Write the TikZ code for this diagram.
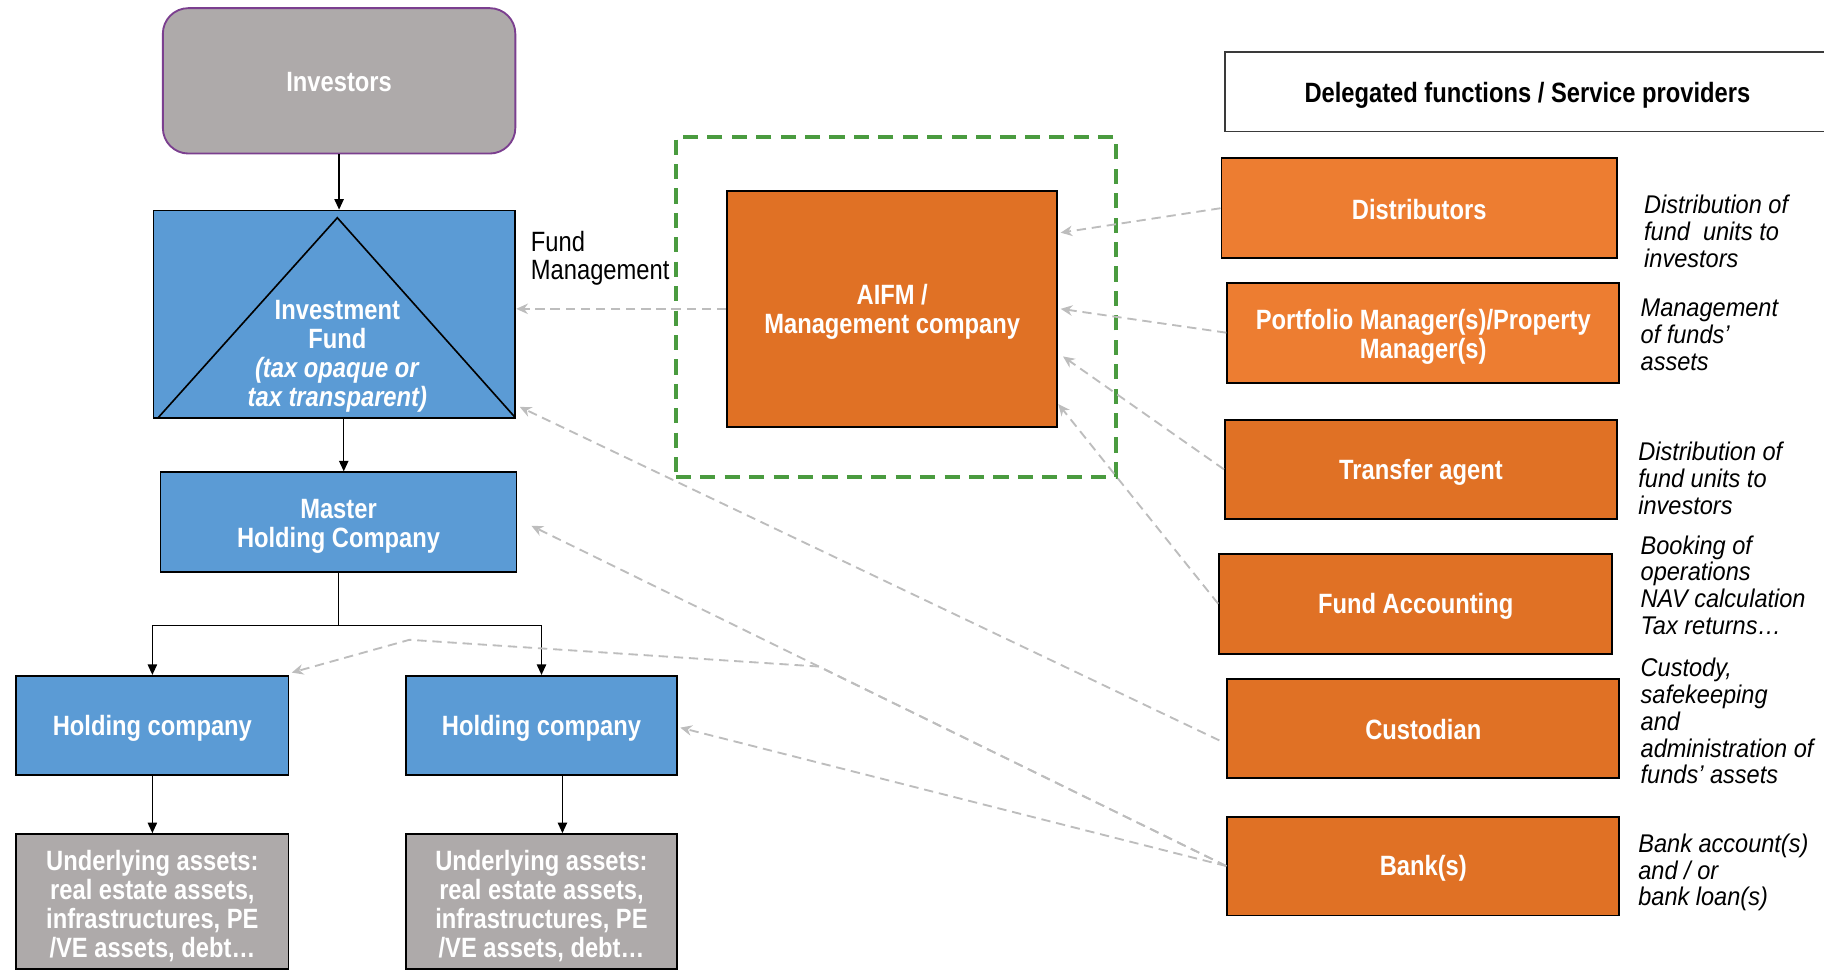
\documentclass[tikz,border=0pt]{standalone}
\usepackage{fontspec}
\setmainfont{Liberation Sans}[FakeStretch=0.85]
\newfontfamily\descfont{Liberation Sans}[FakeStretch=0.92]
\usetikzlibrary{arrows.meta,calc}

\definecolor{boxblue}{HTML}{5B9BD5}
\definecolor{boxgray}{HTML}{AEAAAA}
\definecolor{invborder}{HTML}{7B3F8F}
\definecolor{orangedk}{HTML}{E07125}
\definecolor{orangelt}{HTML}{ED7D31}
\definecolor{zonegreen}{HTML}{4A9B3F}
\definecolor{linkgray}{HTML}{BDBDBD}
\definecolor{hdrborder}{HTML}{3A3A3A}

% invisible strut that sets the height of a label's first line
\newcommand\toprow[1]{\rule{0pt}{#1}}

\begin{document}
\begin{tikzpicture}[x=0.5pt,y=-0.5pt,
  lift/.initial=11pt,
  box/.style={draw=black, line width=0.8pt, inner sep=0pt, text=white,
    font=\fontsize{12}{12.5}\selectfont\bfseries, align=center,
    execute at begin node={\toprow{\pgfkeysvalueof{/tikz/lift}}}},
  bluebox/.style={box, fill=boxblue},
  greybox/.style={box, fill=boxgray},
  darkorange/.style={box, fill=orangedk},
  lightorange/.style={box, fill=orangelt},
  desc/.style={anchor=west, inner sep=0pt, align=left,
    font=\descfont\fontsize{11}{11.5}\selectfont\itshape},
  own/.style={-{Triangle[length=4.5pt,width=4pt]}, line width=0.6pt, black},
  link/.style={-{Stealth[length=5pt,width=4.5pt]}, draw=linkgray,
    line width=0.8pt, dash pattern=on 4pt off 2.5pt},
]
\useasboundingbox (0,0) rectangle (1568,834);
\clip (0,0) rectangle (1568,834);

% management perimeter
\node[draw=zonegreen, line width=1.7pt, dash pattern=on 6.5pt off 4pt,
  minimum width=189pt, minimum height=146pt, inner sep=0pt] (zone) at (770,264) {};

% fund structure
\node[greybox, draw=invborder, rounded corners=11pt, lift=9.6pt,
  minimum width=151.5pt, minimum height=62.5pt] (inv) at (291.5,69.5) {Investors};
\node[bluebox, minimum width=155.5pt, minimum height=89pt] (IF) at (287.5,270) {};
\draw[line width=0.7pt] ($(IF.south west)+(5,-1)$) -- ($(IF.north)+(2.5,7)$)
  -- ($(IF.south east)+(-1,-1)$);
\node[text=white, align=center, inner sep=0pt,
  font=\fontsize{12}{12.5}\selectfont\bfseries] (iftext) at (290,306.5)
  {Investment\\Fund\\\textit{(tax opaque or}\\\textit{tax transparent)}};
\node[bluebox, minimum width=153pt, minimum height=43pt] (mh) at (291,449)
  {\toprow{11.8pt}Master\\Holding Company};
\node[bluebox, lift=11.5pt, minimum width=117pt, minimum height=42.5pt] (hc1) at (131,623.5)
  {Holding company};
\node[bluebox, lift=11.5pt, minimum width=116.5pt, minimum height=42.5pt] (hc2) at (465.5,623.5)
  {Holding company};
\node[greybox, minimum width=117pt, minimum height=58pt] (ua1) at (131,775)
  {\toprow{12.3pt}Underlying assets:\\real estate assets,\\infrastructures, PE\\/VE assets, debt…};
\node[greybox, minimum width=116.5pt, minimum height=58pt] (ua2) at (465.5,775)
  {\toprow{12.3pt}Underlying assets:\\real estate assets,\\infrastructures, PE\\/VE assets, debt…};

\node[anchor=west, inner sep=0pt, align=left, font=\fontsize{12}{12}\selectfont]
  (fmlabel) at (456,222) {Fund\\Management};

% manager
\node[darkorange, minimum width=142pt, minimum height=101.5pt] (aifm) at (767,265.5)
  {\toprow{11pt}AIFM /\\Management company};

% service providers
\node[draw=hdrborder, fill=white, line width=0.8pt, inner sep=0pt,
  minimum width=260pt, minimum height=34pt,
  execute at begin node={\toprow{11.5pt}},
  font=\fontsize{12}{12.5}\selectfont\bfseries] (hdr) at (1313,79)
  {Delegated functions / Service providers};
\node[lightorange, lift=9.6pt, minimum width=170pt, minimum height=43pt] (dist) at (1220,179)
  {Distributors};
\node[lightorange, minimum width=168.5pt, minimum height=43pt] (pm) at (1223.5,286)
  {\toprow{12.4pt}Portfolio Manager(s)/Property\\Manager(s)};
\node[darkorange, minimum width=168.5pt, minimum height=42.5pt] (ta) at (1221.5,403.5)
  {Transfer agent};
\node[darkorange, minimum width=169pt, minimum height=43pt] (fa) at (1217,519)
  {Fund Accounting};
\node[darkorange, lift=9pt, minimum width=168.5pt, minimum height=42.5pt] (cust) at (1223.5,626.5)
  {Custodian};
\node[darkorange, minimum width=168.5pt, minimum height=42.5pt] (bank) at (1223.5,744.5)
  {Bank(s)};

\node[desc] (d1) at (1413,199) {Distribution of\\fund~ units to\\investors};
\node[desc] (d2) at (1410,288) {Management\\of funds’\\assets};
\node[desc] (d3) at (1408,411) {Distribution of\\fund units to\\investors};
\node[desc] (d4) at (1410,503) {Booking of\\operations\\NAV calculation\\Tax returns…};
\node[desc] (d5) at (1410,620) {Custody,\\safekeeping\\and\\administration of\\funds’ assets};
\node[desc] (d6) at (1408,750) {Bank account(s)\\and / or\\bank loan(s)};

% ownership chain
\draw[own] (inv.south) -- (inv.south |- IF.north);
\coordinate (ifout) at ($(IF.south)+(8,0)$);
\draw[own] (ifout) -- (ifout |- mh.north);
\draw[line width=0.6pt] (mh.south) -- ++(0,45) coordinate (split);
\draw[own] (split) -| (hc1.north);
\draw[own] (split) -| (hc2.north);
\draw[own] (hc1.south) -- (ua1.north);
\coordinate (hc2out) at ($(hc2.south)+(18,0)$);
\draw[own] (hc2out) -- (hc2out |- ua2.north);

% delegation links
\draw[link] (aifm.west) -- (aifm.west -| IF.east);
\draw[link] (dist.west) -- ($(aifm.north east)!0.18!(aifm.south east)+(2,0)$);
\draw[link] (pm.west) -- ($(aifm.east)+(2,0)$);
\draw[link] (ta.west) -- ($(aifm.north east)!0.70!(aifm.south east)+(4,0)$);
\draw[link] (fa.west) -- ($(aifm.north east)!0.90!(aifm.south east)$);
\draw[link] ($(cust.west)+(-6,10)$) -- ($(IF.south east)+(3,-10)$);
\draw[link] (bank.west) -- ($(mh.east)+(12,3)$);
\draw[link] (bank.west) -- ($(hc2.east)+(2,2)$);
\coordinate (bend1) at (704,573);
\coordinate (bend2) at (352,550);
\draw[link] (bank.west) -- (bend1) -- (bend2) -- ($(hc1.north east)+(2,-2)$);
\end{tikzpicture}
\end{document}
